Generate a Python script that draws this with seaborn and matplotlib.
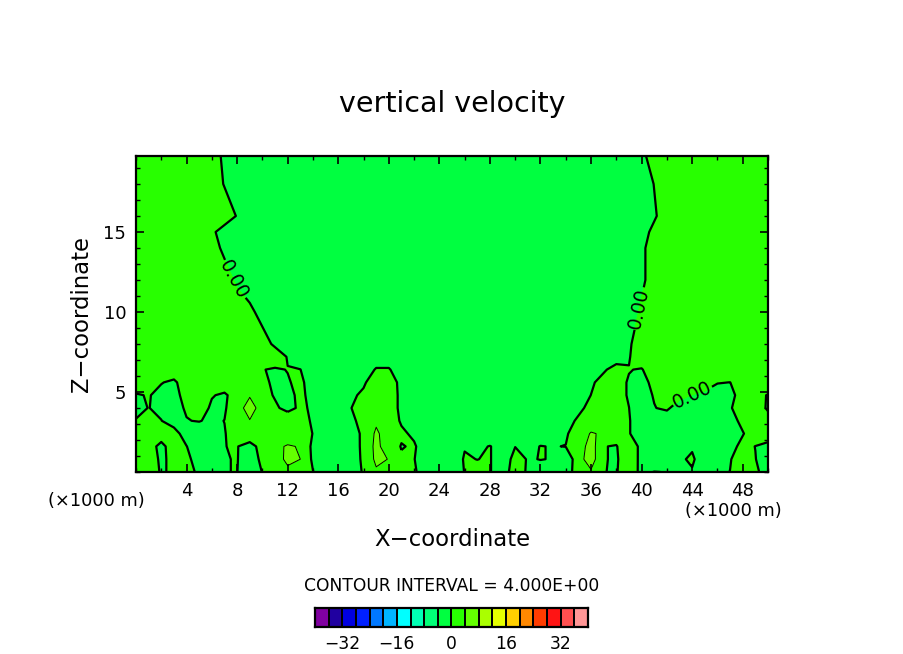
"""
Vertical velocity cross section, filled contours with a boxed colour key.

Usage:
    python plot.py
"""

import numpy as np
import matplotlib
matplotlib.use("Agg")
import matplotlib.pyplot as plt
import seaborn as sns

# Grid (x and z in 1000 m)
x_km = list(range(51))
z_km = [0, 0.8, 1.6, 2.4, 3.2, 4, 4.8, 5.6, 6.4, 7.2, 8, 10, 12, 14, 15, 16, 18, 19.75]

# Vertical velocity at each height, one value per x
w_z00 = [2, 1.7, -.3, .45, 1.3, -.7, -1, -.05, .05, -1.9,
         .1, 1.5, 3.5, 2, .1, -1.9, -2, -1.7, .3, 3.5,
         2, 2, .4, -1.6, -2, -1.9, .1, 1, .1, -1,
         1, -.25, -1.5, -1.5, -1, 1, 3.5, .03, -.1, .9,
         -.4, .05, -.05, -1, -.3, -1.5, -1, .05, 1, .6, -1.4]
w_z01 = [2, 1.5, -.5, .75, .7, -1.3, -2, -.1, .1, -1.4,
         .6, 3, 4.5, 4, -.7, -2, -2, -3, 1, 4.75,
         3.9, .5, .1, -1.9, -2, -2, .3, -.05, .3, -3,
         1.7, -.3, .1, -.15, -3, 2.5, 6, .2, -.4, 2.2,
         -.95, -1.5, -1.5, -.5, .5, -2, -1.5, -.2, 1.8, .1, -1.9]
w_z02 = [2, 1.2, -.8, 1.5, .05, -1.5, -2, -.02, .1, -1,
         1, 3.3, 4.3, 3.8, -.95, -2, -2, -2.4, 1, 5,
         2, -.2, .4, -2, -2, -2, -.2, -.5, .1, -1,
         -.1, -1, .1, -.15, .1, 1.5, 6, .15, -.3, 3.5,
         -1.5, -2, -2, -2, -.4, -2, -2, -1.1, .9, -.05, -1]
w_z03 = [2, 2, 1.5, .9, -1.1, -2, -2, -.2, 1.8, 2,
         2, 2, 2, 2, -.1, -2, -2, -3.5, 1.5, 4.5,
         2.5, .6, -.6, -2, -2, -2, -2, -2, -2, -2,
         -2, -2, -2, -2, -.6, 2.5, 4.2, 3.7, 2.5, .2,
         -1.8, -2, -2, -2, -2, -2, -2, -2, -.2, 1.8, 2]
w_z04 = [.1, 1, .05, -1, -.1, .15, -.6, .05, 2, 3.9,
         2.5, 2, 1.5, 1.5, -.5, -2, -2, -.5, .75, 3.5,
         2, -.4, -2, -2, -2, -2, -2, -2, -2, -2,
         -2, -2, -2, -2, -1.4, .6, 2.5, 2.5, 2, .2,
         -1.8, -2, -2, -2, -2, -2, -2, -1.2, .8, 1.5, .6]
w_z05 = [-.5, .05, -.5, -.75, .25, 1.5, -.5, -.5, 3, 5,
         3, .35, -.65, .37, -.3, -2, -2, -.1, 1.9, 2.5,
         1.4, -.6, -2, -2, -2, -2, -2, -2, -2, -2,
         -2, -2, -2, -2, -2, -.9, 1.1, 1.5, 1.5, .02,
         -1.5, -.1, .5, -1.5, -2, -2, -2, -.3, 1.7, .8, -.2]
w_z06 = [-.3, .2, -.9, -.9, 1, 1.5, .2, -.5, 1.5, 3.8,
         .8, -.2, -.9, .73, -1.1, -2, -2, -.5, .5, 2,
         1.4, -.6, -2, -2, -2, -2, -2, -2, -2, -2,
         -2, -2, -2, -2, -2, -2, .05, 1.5, .8, -.2,
         -1, .18, 1.5, .9, -.1, -1, -1, -.8, 1.2, .85, -.15]
w_z07 = [2, 1, .15, -.6, 1.8, 2, 2, 2, 2, 2,
         1.1, -.9, -.2, .6, -1.4, -2, -2, -2, -.4, 1.6,
         1.3, -.7, -2, -2, -2, -2, -2, -2, -2, -2,
         -2, -2, -2, -2, -2, -2, -.6, 1.4, .8, -.2,
         -1.1, .9, 2, 2, 2, 2, .1, -.02, 1, 2, 2]
w_z08 = [2, 2, 2, 2, 2, 2, 2, 2, 2, 2,
         .1, -.3, .08, .05, -1.9, -2, -2, -2, -2, .3,
         .3, -2, -2, -2, -2, -2, -2, -2, -2, -2,
         -2, -2, -2, -2, -2, -2, -2, -.5, 1.5, .1,
         -.2, 1.8, 2, 2, 2, 2, 2, 2, 2, 2, 2]
w_z09 = [2, 2, 2, 2, 2, 2, 2, 2, 2, 2,
         2, 1.8, -.2, -2, -2, -2, -2, -2, -2, -2,
         -2, -2, -2, -2, -2, -2, -2, -2, -2, -2,
         -2, -2, -2, -2, -2, -2, -2, -2, -2, -.2,
         1.8, 2, 2, 2, 2, 2, 2, 2, 2, 2, 2]
w_z10 = [2, 2, 2, 2, 2, 2, 2, 2, 2, 2,
         1.4, -.6, -2, -2, -2, -2, -2, -2, -2, -2,
         -2, -2, -2, -2, -2, -2, -2, -2, -2, -2,
         -2, -2, -2, -2, -2, -2, -2, -2, -2, -.4,
         1.6, 2, 2, 2, 2, 2, 2, 2, 2, 2, 2]
w_z11 = [2, 2, 2, 2, 2, 2, 2, 2, 2, .8,
         -1.2, -2, -2, -2, -2, -2, -2, -2, -2, -2,
         -2, -2, -2, -2, -2, -2, -2, -2, -2, -2,
         -2, -2, -2, -2, -2, -2, -2, -2, -2, -1.5,
         .5, 2, 2, 2, 2, 2, 2, 2, 2, 2, 2]
w_z12 = [2, 2, 2, 2, 2, 2, 2, 1.4, -.6, -2,
         -2, -2, -2, -2, -2, -2, -2, -2, -2, -2,
         -2, -2, -2, -2, -2, -2, -2, -2, -2, -2,
         -2, -2, -2, -2, -2, -2, -2, -2, -2, -2,
         -.6, 1.4, 2, 2, 2, 2, 2, 2, 2, 2, 2]
w_z13 = [2, 2, 2, 2, 2, 2, 1.3, -.7, -2, -2,
         -2, -2, -2, -2, -2, -2, -2, -2, -2, -2,
         -2, -2, -2, -2, -2, -2, -2, -2, -2, -2,
         -2, -2, -2, -2, -2, -2, -2, -2, -2, -2,
         -.6, 1.4, 2, 2, 2, 2, 2, 2, 2, 2, 2]
w_z14 = [2, 2, 2, 2, 2, 2, .6, -1.4, -2, -2,
         -2, -2, -2, -2, -2, -2, -2, -2, -2, -2,
         -2, -2, -2, -2, -2, -2, -2, -2, -2, -2,
         -2, -2, -2, -2, -2, -2, -2, -2, -2, -2,
         -1.2, .8, 2, 2, 2, 2, 2, 2, 2, 2, 2]
w_z15 = [2, 2, 2, 2, 2, 2, 2, 1.8, -.2, -2,
         -2, -2, -2, -2, -2, -2, -2, -2, -2, -2,
         -2, -2, -2, -2, -2, -2, -2, -2, -2, -2,
         -2, -2, -2, -2, -2, -2, -2, -2, -2, -2,
         -2, -.4, 1.6, 2, 2, 2, 2, 2, 2, 2, 2]
w_z16 = [2, 2, 2, 2, 2, 2, 1.8, -.2, -2, -2,
         -2, -2, -2, -2, -2, -2, -2, -2, -2, -2,
         -2, -2, -2, -2, -2, -2, -2, -2, -2, -2,
         -2, -2, -2, -2, -2, -2, -2, -2, -2, -2,
         -1.9, .1, 2, 2, 2, 2, 2, 2, 2, 2, 2]
w_z17 = [2, 2, 2, 2, 2, 2, 1.4, -.6, -2, -2,
         -2, -2, -2, -2, -2, -2, -2, -2, -2, -2,
         -2, -2, -2, -2, -2, -2, -2, -2, -2, -2,
         -2, -2, -2, -2, -2, -2, -2, -2, -2, -2,
         -.7, 1.3, 2, 2, 2, 2, 2, 2, 2, 2, 2]

# Colour key, one box per contour interval
key_levels = list(range(-40, 41, 4))
key_colors = ["#8000a0", "#2000a0", "#0000e0", "#0020ff", "#0078ff",
              "#00b4ff", "#00ffff", "#00ffb4", "#00ff78", "#00ff40",
              "#28ff00", "#64ff00", "#aaff00", "#e6ff00", "#ffd000",
              "#ff8800", "#ff3c00", "#ff1414", "#ff5050", "#ff9696"]
key_ticks = [-32, -16, 0, 16, 32]

x_ticks = list(range(4, 49, 4))
z_ticks = [5, 10, 15]
label_spots = [(7.7, 12.0), (39.9, 10.2), (44.0, 4.8)]

WIDTH, HEIGHT = 904, 654


def box(left, top, right, bottom):
    """Axes rectangle from pixel edges of the picture."""
    return [left / WIDTH, 1 - bottom / HEIGHT,
            (right - left) / WIDTH, (bottom - top) / HEIGHT]


def put_text(fig, x, y, text, **kwargs):
    """Place black text centred on a pixel position."""
    fig.text(x / WIDTH, 1 - y / HEIGHT, text, ha="center", va="center", **kwargs)


sns.set_theme(style="ticks", rc={
    "axes.edgecolor": "black", "text.color": "black",
    "xtick.color": "black", "ytick.color": "black",
    "font.family": "DejaVu Sans",
})

fig = plt.figure(figsize=(WIDTH / 100, HEIGHT / 100), dpi=100, facecolor="white")
ax = fig.add_axes(box(136, 156, 768, 472))

w = np.array([w_z00, w_z01, w_z02, w_z03, w_z04, w_z05, w_z06, w_z07, w_z08,
              w_z09, w_z10, w_z11, w_z12, w_z13, w_z14, w_z15, w_z16, w_z17])
palette = sns.color_palette(key_colors)

ax.contourf(x_km, z_km, w, levels=key_levels, colors=palette)
lines = ax.contour(x_km, z_km, w, levels=[0, 4], colors="black", linewidths=[1.6, 0.7])
ax.clabel(lines, levels=[0], manual=label_spots, fmt="%.2f", fontsize=13.5,
          inline=True, inline_spacing=1)

ax.set_axisbelow(False)
ax.set_xlim(0, 50)
ax.set_ylim(0, 19.75)
ax.set_xticks(x_ticks)
ax.set_xticks(range(0, 51, 2), minor=True)
ax.set_yticks(z_ticks)
ax.set_yticks(range(0, 20), minor=True)
ax.tick_params(which="both", direction="in", top=True, right=True, color="black")
ax.tick_params(which="major", length=6, width=1.2, labelsize=13, pad=7)
ax.tick_params(which="minor", length=3, width=1)
for spine in ax.spines.values():
    spine.set_linewidth(1.6)

put_text(fig, 452, 104, "vertical velocity", fontsize=20.5)
put_text(fig, 82, 314, "Z\u2212coordinate", fontsize=16.4, rotation=90)
put_text(fig, 452, 539, "X\u2212coordinate", fontsize=16.4)
put_text(fig, 96, 501, "(\u00d71000 m)", fontsize=12.8)
put_text(fig, 733, 511, "(\u00d71000 m)", fontsize=12.8)
put_text(fig, 452, 586, "CONTOUR INTERVAL = 4.000E+00", fontsize=12.3)

# Colour key drawn as a one row heatmap
key_ax = fig.add_axes(box(315, 608, 588, 627))
key_values = np.array(key_levels[:-1]).reshape(1, -1) + 2
sns.heatmap(key_values, ax=key_ax, cmap=palette, vmin=-40, vmax=40, cbar=False,
            linewidths=1.2, linecolor="black", xticklabels=False, yticklabels=False)
for spine in key_ax.spines.values():
    spine.set_visible(True)
    spine.set_linewidth(1.6)
key_ax.set_xticks([key_levels.index(t) for t in key_ticks])
key_ax.set_xticklabels([str(t).replace("-", "\u2212") for t in key_ticks])
key_ax.tick_params(axis="x", length=0, labelsize=12.3, pad=6)

plt.savefig("out.png", dpi=100)
plt.close()
